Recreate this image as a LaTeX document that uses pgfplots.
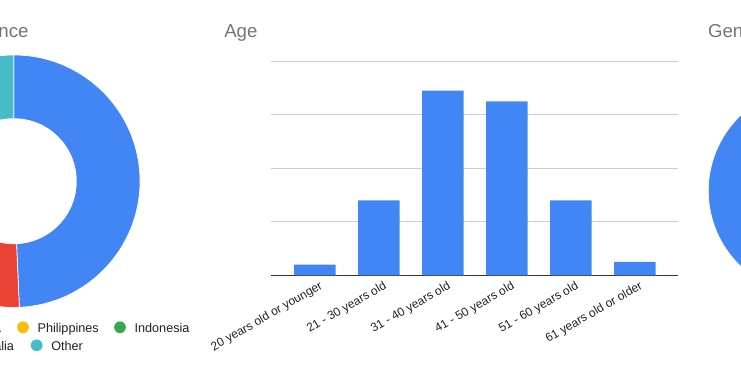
\documentclass[border=0pt]{standalone}
\usepackage{pgfplots}
\pgfplotsset{compat=1.18}
\usepackage{fontspec}
\setmainfont{Liberation Sans}
\definecolor{gblue}{HTML}{4285F4}
\definecolor{gred}{HTML}{EA4335}
\definecolor{gyellow}{HTML}{FBBC04}
\definecolor{ggreen}{HTML}{34A853}
\definecolor{gorange}{HTML}{FF6D01}
\definecolor{gteal}{HTML}{46BDC6}
\definecolor{titlegray}{HTML}{757575}
\definecolor{labelgray}{HTML}{222222}
\definecolor{gridgray}{HTML}{CCCCCC}
\definecolor{axisdark}{HTML}{333333}

% Residence shares (%), clockwise from the top
\def\resA{49.3}% blue
\def\resB{34.5}% red
\def\resC{5.5}% yellow  (Philippines)
\def\resD{4.0}% green   (Indonesia)
\def\resE{3.2}% orange  (Australia)
\def\resF{3.5}% teal    (Other)
% Gender shares (%)
\def\genA{91}
\def\genB{9}

% slice: start angle, end angle, colour, outer radius
\newcommand\slice[4]{%
  \fill[#3, draw=white, line width=0.5pt] (axis cs:0,0) -- ++(#1:#4)
     arc[start angle=#1, end angle=#2, radius=#4] -- cycle;}

\begin{document}
\begin{tikzpicture}
\useasboundingbox (0,0) rectangle (555.75pt,278.25pt);
\clip (0,0) rectangle (555.75pt,278.25pt);

\pgfmathsetmacro\aA{90}
\pgfmathsetmacro\aB{\aA-3.6*\resA}
\pgfmathsetmacro\aC{\aB-3.6*\resB}
\pgfmathsetmacro\aD{\aC-3.6*\resC}
\pgfmathsetmacro\aE{\aD-3.6*\resD}
\pgfmathsetmacro\aF{\aE-3.6*\resE}
\pgfmathsetmacro\aG{\aF-3.6*\resF}
\pgfmathsetmacro\gA{90}
\pgfmathsetmacro\gB{\gA-3.6*\genA}
\pgfmathsetmacro\gC{\gB-3.6*\genB}

% ---------- Residence donut ----------
\begin{axis}[hide axis, clip=false, x=0.75pt, y=0.75pt,
  xmin=-140, xmax=140, ymin=-140, ymax=140,
  anchor=center, at={(10.35pt,142.35pt)}]
  \slice{\aA}{\aB}{gblue}{94.65pt}
  \slice{\aB}{\aC}{gred}{94.65pt}
  \slice{\aC}{\aD}{gyellow}{94.65pt}
  \slice{\aD}{\aE}{ggreen}{94.65pt}
  \slice{\aE}{\aF}{gorange}{94.65pt}
  \slice{\aF}{\aG}{gteal}{94.65pt}
  \fill[white] (axis cs:0,0) circle[radius=47.175pt];
\end{axis}

% ---------- Gender donut ----------
\begin{axis}[hide axis, clip=false, x=0.75pt, y=0.75pt,
  xmin=-120, xmax=120, ymin=-120, ymax=120,
  anchor=center, at={(609.375pt,135.15pt)}]
  \slice{\gA}{\gB}{gblue}{78.15pt}
  \slice{\gB}{\gC}{gred}{78.15pt}
  \fill[white] (axis cs:0,0) circle[radius=39pt];
\end{axis}

% ---------- Age bar chart ----------
\begin{axis}[at={(203.25pt,71.775pt)}, anchor=south west,
  width=305.475pt, height=160.5pt, scale only axis,
  xmin=-0.685, xmax=5.679, ymin=0, ymax=80,
  axis x line*=bottom, axis y line*=left,
  x axis line style={axisdark, line width=0.75pt},
  y axis line style={draw=none},
  ytick={0,20,40,60,80}, yticklabels={}, ymajorgrids,
  grid style={gridgray, line width=0.75pt},
  xtick={0,1,2,3,4,5}, major tick length=0pt,
  xticklabels={20 years old or younger, 21 - 30 years old, 31 - 40 years old,
    41 - 50 years old, 51 - 60 years old, 61 years old or older},
  xticklabel style={rotate=30, anchor=north east, inner sep=1pt,
    xshift=1.7pt, yshift=-3.75pt,
    font=\fontsize{9}{11}\selectfont, text=labelgray},
]
\addplot[ybar, bar width=0.651, fill=gblue, draw=none]
  coordinates {(0,4) (1,28) (2,69) (3,65) (4,28) (5,5)};
\end{axis}

% ---------- titles ----------
\node[anchor=base east, inner sep=0pt, text=titlegray, font=\fontsize{14}{16}\selectfont]
  at (21.6pt,250.125pt) {Residence};
\node[anchor=base west, inner sep=0pt, text=titlegray, font=\fontsize{14}{16}\selectfont]
  at (168pt,250.125pt) {Age};
\node[anchor=base west, inner sep=0pt, text=titlegray, font=\fontsize{14}{16}\selectfont]
  at (530.85pt,250.125pt) {Gender};

% ---------- Residence legend ----------
\begin{scope}[font=\fontsize{9.5}{12}\selectfont, text=labelgray]
  \node[anchor=base east, inner sep=0pt] at (1.1pt,29.25pt) {Malaysia};
  \fill[gyellow] (17.25pt,32.775pt) circle[radius=4.4pt];
  \node[anchor=base west, inner sep=0pt] at (27.975pt,29.25pt) {Philippines};
  \fill[ggreen] (90pt,32.775pt) circle[radius=4.4pt];
  \node[anchor=base west, inner sep=0pt] at (100.725pt,29.25pt) {Indonesia};
  \node[anchor=base east, inner sep=0pt] at (10.725pt,15.75pt) {Australia};
  \fill[gteal] (27.525pt,19.275pt) circle[radius=4.4pt];
  \node[anchor=base west, inner sep=0pt] at (38.25pt,15.75pt) {Other};
\end{scope}
\end{tikzpicture}
\end{document}
